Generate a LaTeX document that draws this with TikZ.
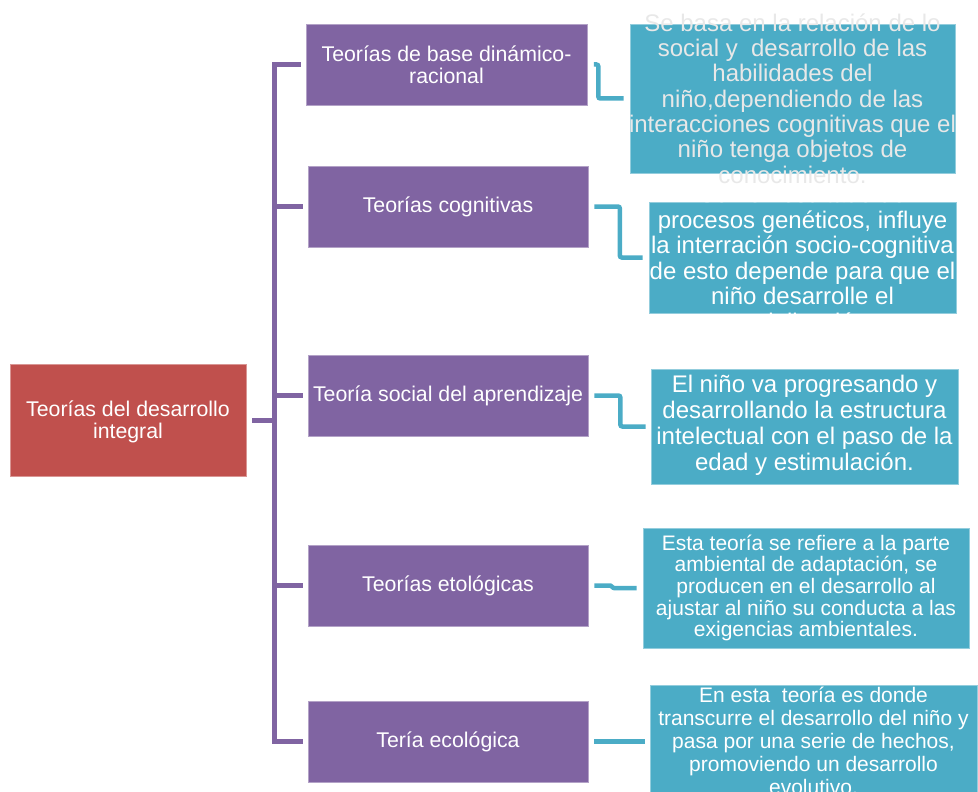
\documentclass[tikz,border=0pt]{standalone}
\usepackage{fontspec}
\setmainfont{Liberation Sans}
\definecolor{purp}{HTML}{8064A2}
\definecolor{redb}{HTML}{C0504D}
\definecolor{blu}{HTML}{4BACC6}
\begin{document}
\begin{tikzpicture}[x=1pt,y=-1pt,
  pbox/.style={rectangle,fill=purp,draw=purp!60!white,line width=0.7pt,inner sep=0pt,
    minimum width=280pt,minimum height=81pt,text=white,align=center,
    font=\fontsize{21.3}{22}\selectfont},
  rbox/.style={rectangle,fill=redb,draw=redb!60!white,line width=0.7pt,inner sep=0pt,
    minimum width=236pt,minimum height=112pt,text=white,align=center,
    font=\fontsize{21.3}{22.5}\selectfont},
  bbox/.style={rectangle,fill=blu,draw=blu!60!white,line width=0.7pt,inner sep=0pt},
  btext/.style={inner sep=0pt,align=center,text=white},
  ptree/.style={draw=purp,line width=5pt,line join=miter},
  bconn/.style={draw=blu,line width=4.5pt,rounded corners=2pt}
]
\useasboundingbox (0,0) rectangle (978,792);

% left root
\node[rbox] (r) at (128,420) {};
\node[btext,font=\fontsize{21.3}{22.5}\selectfont] (rt) at ([yshift=-2pt]r.center) {Teorías del desarrollo\\integral};

% purple boxes
\node[pbox,minimum width=281pt] (p1) at (446.5,64.5) {Teorías de base dinámico-\\racional};
\node[pbox] (p2) at (448,206.5) {Teorías cognitivas};
\node[pbox] (p3) at (448,395.5) {Teoría social del aprendizaje};
\node[pbox] (p4) at (448,585.5) {Teorías etológicas};
\node[pbox] (p5) at (448,741.5) {Tería ecológica};

% blue boxes
\node[bbox,minimum width=325pt,minimum height=149pt] (b1) at (792.5,98.5) {};
\node[bbox,minimum width=307pt,minimum height=111pt] (b2) at (802.5,257.5) {};
\node[bbox,minimum width=307pt,minimum height=115pt] (b3) at (804.5,426.5) {};
\node[bbox,minimum width=326pt,minimum height=120pt] (b4) at (806,588) {};
\node[bbox,minimum width=327pt,minimum height=112pt] (b5) at (813.5,741) {};

% blue box texts
\node[btext,text=black!9!white,font=\fontsize{24}{25.3}\selectfont] (t1) at (b1.center)
  {Se basa en la relación de lo\\social y\ \ desarrollo de las\\habilidades del\\niño,dependiendo de las\\interacciones cognitivas que el\\niño tenga objetos de\\conocimiento.};
\node[btext,font=\fontsize{24}{25.6}\selectfont] (t2) at ([yshift=-0.5pt]b2.center)
  {Son el resultado de\\procesos genéticos, influye\\la interración socio-cognitiva\\de esto depende para que el\\niño desarrolle el\\socialización.};
\node[btext,font=\fontsize{24}{26}\selectfont] (t3) at ([yshift=1pt]b3.center)
  {El niño va progresando y\\desarrollando la estructura\\intelectual con el paso de la\\edad y estimulación.};
\node[btext,font=\fontsize{21}{21.7}\selectfont] (t4) at (b4.center)
  {Esta teoría se refiere a la parte\\ambiental de adaptación, se\\producen en el desarrollo al\\ajustar al niño su conducta a las\\exigencias ambientales.};
\node[btext,font=\fontsize{21}{23}\selectfont] (t5) at (b5.center)
  {En esta\ \ teoría es donde\\transcurre el desarrollo del niño y\\pasa por una serie de hechos,\\promoviendo un desarrollo\\evolutivo.};

% purple tree
\coordinate (spine) at (274.5,420);
\draw[ptree] ([xshift=-5pt]p1.west) -| (spine) |- ([xshift=-5pt]p5.west);
\draw[ptree] ([xshift=6pt]r.east) -- (spine);
\draw[ptree] (spine |- p2.west) -- ([xshift=-5pt]p2.west);
\draw[ptree] (spine |- p3.west) -- ([xshift=-5pt]p3.west);
\draw[ptree] (spine |- p4.west) -- ([xshift=-5pt]p4.west);

% blue connectors
\draw[bconn] ([xshift=6.5pt]p1.east) -- ++(4.5,0) |- ([xshift=-6pt]b1.west);
\draw[bconn] ([xshift=6pt]p2.east) -- ++(25.5,0) |- ([xshift=-6pt]b2.west);
\draw[bconn] ([xshift=6pt]p3.east) -- ++(26,0) |- ([xshift=-5pt]b3.west);
\draw[draw=blu,line width=4.5pt,line join=round] ([xshift=6pt]p4.east) -- ++(16,0) -- ([xshift=-29pt]b4.west) -- ([xshift=-6pt]b4.west);
\draw[draw=blu,line width=4.5pt] ([xshift=6pt]p5.east) -- ([xshift=-5pt]p5.east -| b5.west);
\end{tikzpicture}
\end{document}
